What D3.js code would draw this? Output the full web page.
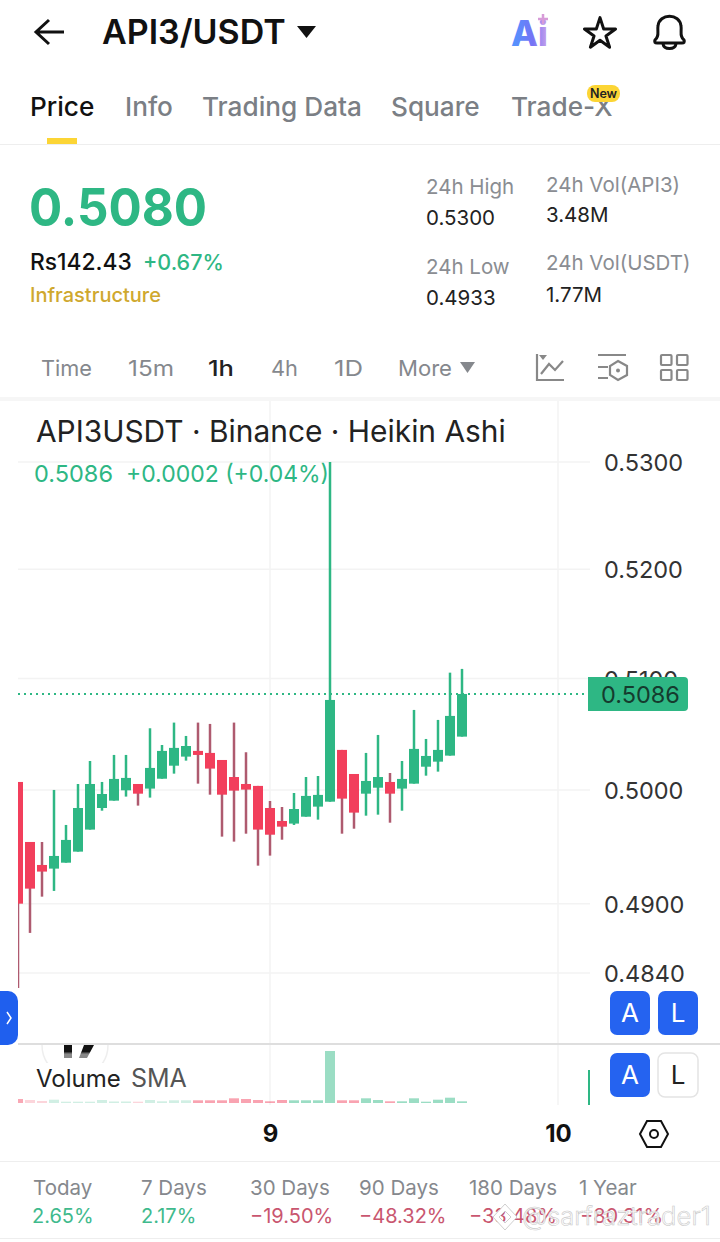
<!DOCTYPE html>
<html>
<head>
<meta charset="utf-8">
<script src="https://cdn.jsdelivr.net/npm/d3@7"></script>
<style>
  html, body { margin: 0; padding: 0; background: #fff; }
  svg { display: block; }
  text { font-family: Inter, Roboto, sans-serif; }
</style>
</head>
<body>
<script>
// candle values, one per hour (Heikin Ashi)
const opens = [0.50071,0.49540,0.49338,0.49306,0.49358,0.49455,0.49649,0.49840,0.49905,0.49997,
  0.50053,0.50012,0.50100,0.50216,0.50297,0.50348,0.50330,0.50267,0.50115,0.50053,
  0.50036,0.49840,0.49725,0.49702,0.49763,0.49852,0.49896,0.50357,0.50142,0.49967,
  0.50020,0.50071,0.50012,0.50056,0.50207,0.50252,0.50306,0.50476];
const highs = [0.50071,0.49540,0.49540,0.50000,0.49690,0.50053,0.50258,0.50071,0.50312,0.50312,
  0.50053,0.50551,0.50401,0.50602,0.50482,0.50602,0.50590,0.50267,0.50602,0.50336,
  0.50036,0.49902,0.49849,0.49973,0.50115,0.50124,0.53000,0.50357,0.50142,0.50330,
  0.50491,0.50151,0.50258,0.50716,0.50455,0.50626,0.51053,0.51087];
const lows = [0.48272,0.48746,0.49061,0.49111,0.49358,0.49455,0.49649,0.49816,0.49905,0.49941,
  0.49861,0.49932,0.50100,0.50145,0.50261,0.50056,0.49958,0.49587,0.49543,0.49613,
  0.49332,0.49420,0.49560,0.49690,0.49763,0.49737,0.49896,0.49613,0.49657,0.49772,
  0.49781,0.49710,0.49816,0.50056,0.50127,0.50163,0.50306,0.50476];
const closes = [0.49000,0.49131,0.49280,0.49417,0.49558,0.49840,0.50053,0.49964,0.50098,0.50107,
  0.49967,0.50196,0.50348,0.50375,0.50392,0.50312,0.50190,0.49958,0.49994,0.50003,
  0.49649,0.49604,0.49675,0.49831,0.49947,0.49956,0.50806,0.49923,0.49799,0.50080,
  0.50115,0.49967,0.50098,0.50366,0.50303,0.50357,0.50662,0.50860];
// volume in thousands
const volumes = [80,60,40,66,26,26,26,60,30,30,
  26,60,34,54,54,54,54,54,94,80,
  60,34,60,54,54,54,1040,54,54,94,
  60,34,34,94,26,66,106,34];

const priceTicks = [0.53, 0.52, 0.51, 0.50, 0.49, 0.484];
const dayTicks = [21, 45];
const dayLabels = ["9", "10"];
const lastPrice = 0.5086;

const tabs = ["Price", "Info", "Trading Data", "Square", "Trade-X"];
const intervals = ["Time", "15m", "1h", "4h", "1D", "More"];
const stats = [["24h High", "0.5300"], ["24h Vol(API3)", "3.48M"], ["24h Low", "0.4933"], ["24h Vol(USDT)", "1.77M"]];
const periods = ["Today", "7 Days", "30 Days", "90 Days", "180 Days", "1 Year"];
const periodValues = ["2.65%", "2.17%", "−19.50%", "−48.32%", "−33.48%", "−80.31%"];

const green = "#2eb784", red = "#f23f5c", redWick = "#ae5a6f", grey = "#7b7f85", grid = "#f3f3f3";

const svg = d3.select("body").append("svg").attr("width", 720).attr("height", 1242);

function label(s, x, y, size, fill, weight, parent) {
  return (parent || svg).append("text").attr("x", x).attr("y", y)
    .attr("font-size", size).attr("fill", fill).attr("font-weight", weight || 400).text(s);
}

// header
svg.append("path").attr("d", "M64 32H37M49 20L36 32L49 44").attr("fill", "none").attr("stroke", "#111").attr("stroke-width", 3);
label("API3/USDT", 102, 44, 34, "#111", 600);
svg.append("path").attr("d", "M297 26H316L306.500 38Z").attr("fill", "#111");

const ai = svg.append("defs").append("linearGradient").attr("id", "ai");
ai.append("stop").attr("offset", "0").attr("stop-color", "#4f97ff");
ai.append("stop").attr("offset", "0.6").attr("stop-color", "#7673f5");
ai.append("stop").attr("offset", "1").attr("stop-color", "#c9a2ea");
label("Ai", 511, 46, 35, "url(#ai)", 800);
svg.append("path").attr("d", "M543 14V24M538 19H548").attr("stroke", "#d79bd8").attr("stroke-width", 2.500);
svg.append("path").attr("d", d3.symbol(d3.symbolStar, 300)()).attr("transform", "translate(600,34)")
  .attr("fill", "none").attr("stroke", "#111").attr("stroke-width", 3).attr("stroke-linejoin", "round");
svg.append("path").attr("d", "M655 40C660 36 657 32 658 26C659 13 680 13 681 26C682 32 679 36 684 40C685 42 684 43 682 43H657C655 43 654 42 655 40ZM663 44C664 50 675 50 676 44")
  .attr("fill", "none").attr("stroke", "#111").attr("stroke-width", 3);

// tabs
const tabX = [30, 125, 202, 391, 511];
tabs.forEach((t, i) => label(t, tabX[i], 116, 26.200, i === 0 ? "#111" : grey, 500));
svg.append("rect").attr("x", 47).attr("y", 138).attr("width", 30).attr("height", 6).attr("fill", "#fcd535");
svg.append("rect").attr("x", 0).attr("y", 144).attr("width", 720).attr("height", 1).attr("fill", "#eeeeee");
svg.append("rect").attr("x", 587).attr("y", 85).attr("width", 33).attr("height", 17).attr("rx", 8).attr("fill", "#fcd535");
label("New", 603.500, 98, 12.500, "#222", 600).attr("text-anchor", "middle");

// price block
label("0.5080", 29, 226, 52, green, 700).attr("textLength", 178).attr("lengthAdjust", "spacingAndGlyphs");
label("Rs142.43", 30, 270, 22.800, "#111", 500);
label("+0.67%", 143, 270, 21.500, green, 500);
label("Infrastructure", 30, 302, 20, "#cfa82e", 500);

const statX = [426, 546, 426, 546];
const statLabelY = [194, 192, 274, 270];
const statValueY = [225, 222, 305, 302];
stats.forEach((s, i) => {
  label(s[0], statX[i], statLabelY[i], 20.500, "#8a8d92");
  label(s[1], statX[i], statValueY[i], 20.500, "#222");
});

// interval row
const intervalX = [41, 128, 208, 271, 334, 398];
const intervalW = [51, 46, 26, 27, 29, 54];
intervals.forEach((t, i) => label(t, intervalX[i], 376, 22, i === 2 ? "#222" : "#85888d", i === 2 ? 500 : 400)
  .attr("textLength", intervalW[i]).attr("lengthAdjust", "spacingAndGlyphs"));
svg.append("path").attr("d", "M460 362H475L467.500 373Z").attr("fill", "#85888d");
svg.append("path").attr("d", "M537 354V380H564M541 374L549 364L555 370L563 361").attr("fill", "none").attr("stroke", "#888").attr("stroke-width", 2.200);
svg.append("path").attr("d", "M539 355H547L543 360Z").attr("fill", "#888");
svg.append("path").attr("d", "M598 355H626M598 367H608M598 378H608M618 361L627 366V375L618 380L610 375V366Z").attr("fill", "none").attr("stroke", "#888").attr("stroke-width", 2.200);
svg.append("circle").attr("cx", 618).attr("cy", 370.500).attr("r", 2).attr("fill", "#888");
[[661, 355], [677, 355], [661, 370], [677, 370]].forEach(p => {
  svg.append("rect").attr("x", p[0]).attr("y", p[1]).attr("width", 10.500).attr("height", 10).attr("rx", 1)
    .attr("fill", "none").attr("stroke", "#888").attr("stroke-width", 2.200);
});
svg.append("rect").attr("x", 0).attr("y", 397).attr("width", 720).attr("height", 4).attr("fill", "#f6f6f6");

// chart scales
const x = d3.scaleLinear().domain([0, 45]).range([18, 558]);
const y = d3.scaleLog().domain([0.484, 0.53]).range([973, 462]);
const yVol = d3.scaleLinear().domain([0, 1040]).range([1103, 1051]);

// grid
svg.append("g").selectAll("line").data(priceTicks).join("line")
  .attr("x1", 18).attr("x2", 590).attr("y1", d => y(d)).attr("y2", d => y(d))
  .attr("stroke", grid).attr("stroke-width", 1.500);
svg.append("g").selectAll("line").data(dayTicks).join("line")
  .attr("x1", d => x(d)).attr("x2", d => x(d)).attr("y1", 401).attr("y2", 1105)
  .attr("stroke", grid).attr("stroke-width", 1.500);

// price axis
const yAxis = d3.axisRight(y).tickValues(priceTicks).tickFormat(d3.format(".4f")).tickSize(0).tickPadding(0);
const gy = svg.append("g").attr("transform", "translate(604,1)").call(yAxis);
gy.select(".domain").remove();
gy.selectAll("text").attr("font-size", 23.500).attr("fill", "#333").attr("font-family", "Roboto, sans-serif");

label("API3USDT · Binance · Heikin Ashi", 36, 442, 29.900, "#222").attr("font-family", "Roboto, sans-serif");
label("0.5086", 34, 482, 23.500, green).attr("font-family", "Roboto, sans-serif").attr("textLength", 79).attr("lengthAdjust", "spacingAndGlyphs");
label("+0.0002 (+0.04%)", 126, 482, 23.500, green).attr("font-family", "Roboto, sans-serif").attr("textLength", 203).attr("lengthAdjust", "spacingAndGlyphs");

// candles
svg.append("clipPath").attr("id", "plot").append("rect").attr("x", 18).attr("y", 440).attr("width", 570).attr("height", 560);
const candles = svg.append("g").attr("clip-path", "url(#plot)");
const idx = d3.range(opens.length);
const up = i => closes[i] >= opens[i];

candles.selectAll(".wick").data(idx).join("line").attr("class", "wick")
  .attr("x1", i => x(i)).attr("x2", i => x(i))
  .attr("y1", i => y(highs[i])).attr("y2", i => y(lows[i]))
  .attr("stroke", i => up(i) ? green : redWick).attr("stroke-width", 2.500);

candles.selectAll(".body").data(idx).join("rect").attr("class", "body")
  .attr("x", i => x(i) - 5).attr("width", 10)
  .attr("y", i => y(Math.max(opens[i], closes[i])))
  .attr("height", i => Math.abs(y(opens[i]) - y(closes[i])))
  .attr("fill", i => up(i) ? green : red);

// last price line and badge
svg.append("line").attr("x1", 18).attr("x2", 587).attr("y1", y(lastPrice)).attr("y2", y(lastPrice))
  .attr("stroke", green).attr("stroke-width", 2).attr("stroke-dasharray", "2 4");
svg.append("path").attr("d", "M588 677H684A4 4 0 0 1 688 681V707A4 4 0 0 1 684 711H588Z").attr("fill", green);
label(d3.format(".4f")(lastPrice), 640.500, 703, 23.500, "#153b2e").attr("text-anchor", "middle").attr("font-family", "Roboto, sans-serif");

// volume pane
svg.append("clipPath").attr("id", "logoclip").append("rect").attr("x", 30).attr("y", 1045).attr("width", 90).attr("height", 18);
svg.append("circle").attr("clip-path", "url(#logoclip)").attr("cx", 75).attr("cy", 1045).attr("r", 33)
  .attr("fill", "#fff").attr("stroke", "#eeeeee").attr("stroke-width", 1.500);
const logo = svg.append("defs").append("linearGradient").attr("id", "logo").attr("x1", 0).attr("x2", 0).attr("y1", 0).attr("y2", 1);
logo.append("stop").attr("offset", "0.5").attr("stop-color", "#111");
logo.append("stop").attr("offset", "0.7").attr("stop-color", "#888");
svg.append("path").attr("d", "M64 1045H72V1058H64ZM84 1045H94L87 1058H79Z").attr("fill", "url(#logo)");
svg.append("rect").attr("x", 18).attr("y", 1043).attr("width", 702).attr("height", 2).attr("fill", "#dedede");

svg.append("clipPath").attr("id", "volclip").append("rect").attr("x", 18).attr("y", 1045).attr("width", 570).attr("height", 60);
const vols = svg.append("g").attr("clip-path", "url(#volclip)");
vols.selectAll("rect").data(idx).join("rect")
  .attr("x", i => x(i) - 5).attr("width", 10)
  .attr("y", i => yVol(volumes[i]))
  .attr("height", i => yVol(0) - yVol(volumes[i]))
  .attr("fill", i => up(i) ? green : red)
  .attr("opacity", i => i === 0 ? 0.45 : (i < 15 ? 0.22 : 0.48));
svg.append("line").attr("x1", 589).attr("x2", 589).attr("y1", 1070).attr("y2", 1105).attr("stroke", green).attr("stroke-width", 2);

label("Volume", 36, 1087, 24, "#222").attr("font-family", "Roboto, sans-serif");
label("SMA", 131, 1087, 25, "#555").attr("font-family", "Roboto, sans-serif");

// handle and A / L buttons
svg.append("path").attr("d", "M0 991H8A10 10 0 0 1 18 1001V1035A10 10 0 0 1 8 1045H0Z").attr("fill", "#1f5fee");
svg.append("path").attr("d", "M7 1012L11 1018L7 1024").attr("fill", "none").attr("stroke", "#fff").attr("stroke-width", 1.500);
const buttons = [
  { t: "A", x: 610, y: 991, on: true }, { t: "L", x: 658, y: 991, on: true },
  { t: "A", x: 610, y: 1053, on: true }, { t: "L", x: 658, y: 1053, on: false }
];
buttons.forEach(b => {
  svg.append("rect").attr("x", b.x).attr("y", b.y).attr("width", 40).attr("height", 44).attr("rx", 7)
    .attr("fill", b.on ? "#2563f0" : "#fff").attr("stroke", b.on ? "none" : "#e4e4e4").attr("stroke-width", 1.500);
  label(b.t, b.x + 20, b.y + 31, 26, b.on ? "#fff" : "#222").attr("text-anchor", "middle").attr("font-family", "Roboto, sans-serif");
});

// time axis
const xAxis = d3.axisBottom(x).tickValues(dayTicks).tickFormat((d, i) => dayLabels[i]).tickSize(0).tickPadding(0);
const gx = svg.append("g").attr("transform", "translate(0,1125)").call(xAxis);
gx.select(".domain").remove();
gx.selectAll("text").attr("font-size", 24).attr("font-weight", 700).attr("fill", "#111").attr("font-family", "Roboto, sans-serif");

svg.append("path").attr("d", "M640 1134L647 1121H661L668 1134L661 1147H647Z").attr("fill", "none").attr("stroke", "#111").attr("stroke-width", 2);
svg.append("circle").attr("cx", 654).attr("cy", 1134).attr("r", 4).attr("fill", "none").attr("stroke", "#111").attr("stroke-width", 2);

// period performance
svg.append("rect").attr("x", 0).attr("y", 1161).attr("width", 720).attr("height", 1).attr("fill", "#eeeeee");
svg.append("rect").attr("x", 0).attr("y", 1238).attr("width", 720).attr("height", 1).attr("fill", "#eeeeee");
const periodX = [33, 141, 250, 359, 469, 579];
const valueX = [32, 141, 250, 359, 469, 580];
periods.forEach((p, i) => {
  label(p, periodX[i], 1195, 20.500, "#85888d");
  const neg = periodValues[i][0] === "−";
  label(periodValues[i], valueX[i], 1223, 20, neg ? "#c9566f" : "#3fba8d");
});

// watermark
svg.append("path").attr("d", "M505 1204L517 1217L505 1230L493 1217ZM505 1211L511 1217L505 1223L499 1217Z")
  .attr("fill", "#fff").attr("fill-rule", "evenodd").attr("stroke", "#cfcfcf").attr("stroke-width", 1);
label("@sarfraztrader1", 522, 1225, 25.700, "#fff", 300).attr("stroke", "#c4c4c4").attr("stroke-width", 0.600)
  .attr("font-family", "Roboto, sans-serif").attr("opacity", 0.9);
</script>
</body>
</html>
